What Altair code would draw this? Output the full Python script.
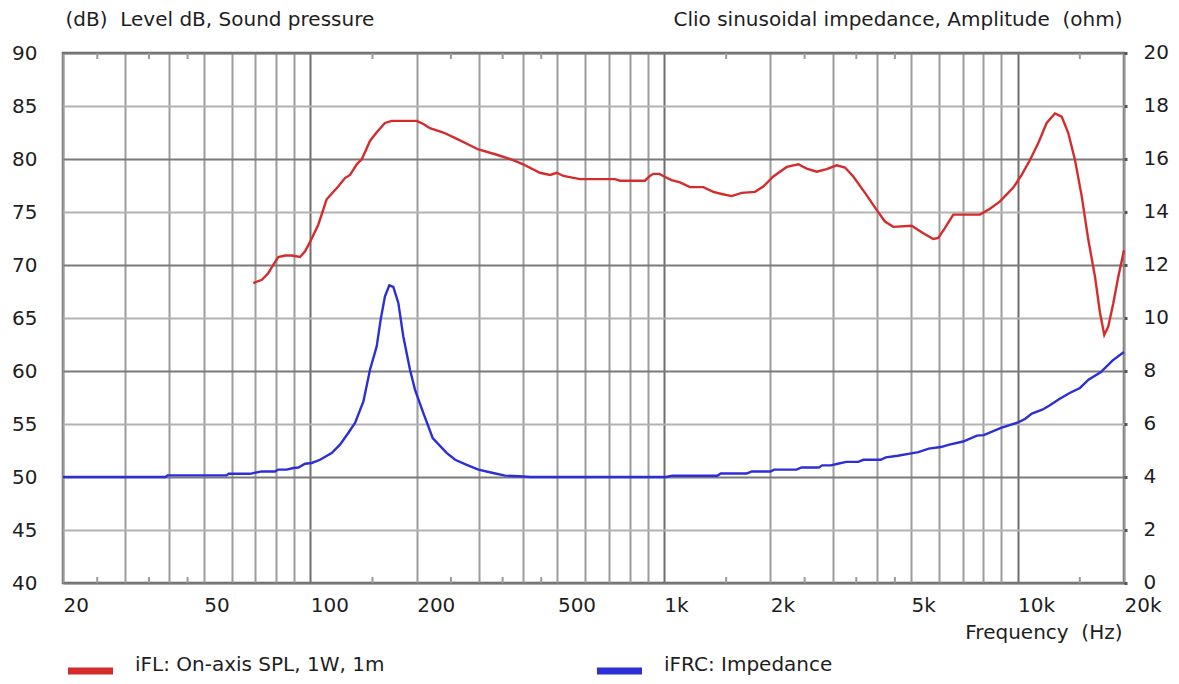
import altair as alt
import pandas as pd

# ---- data ----
spl_freq = [69, 73, 76, 78.6, 81.2, 85, 88.7, 93.6, 96.7, 100, 105.4, 111.3, 120, 125.4, 129.6,
            135.4, 140, 147.6, 154, 162.7, 170, 200, 209, 218, 238, 260, 299, 337, 375, 400,
            446, 477, 498, 520, 579, 728, 751, 884, 913, 933, 971, 1008, 1052, 1111, 1185,
            1293, 1380, 1457, 1555, 1660, 1810, 1910, 2039, 2226, 2400, 2534, 2705, 2887,
            3081, 3252, 3432, 3704, 3996, 4218, 4453, 5020, 5414, 5778, 5970, 6236, 6582,
            7832, 8358, 8922, 9727, 10272, 10844, 11446, 12088, 12761, 13331, 13916, 14536,
            15186, 15851, 16558, 17107, 17592, 18056, 18654, 19272, 20000]
spl_db = [68.3, 68.6, 69.2, 70.0, 70.75, 70.9, 70.9, 70.75, 71.3, 72.2, 73.8, 76.2, 77.4, 78.2,
          78.5, 79.5, 80.0, 81.7, 82.5, 83.4, 83.6, 83.6, 83.3, 82.9, 82.5, 81.9, 80.9, 80.4,
          79.9, 79.5, 78.7, 78.5, 78.7, 78.4, 78.1, 78.1, 77.95, 77.95, 78.4, 78.6, 78.6, 78.3,
          78.0, 77.8, 77.35, 77.35, 76.9, 76.7, 76.5, 76.8, 76.9, 77.4, 78.35, 79.25, 79.5,
          79.1, 78.8, 79.05, 79.4, 79.2, 78.35, 76.8, 75.2, 74.1, 73.6, 73.7, 73.0, 72.45,
          72.55, 73.5, 74.75, 74.75, 75.3, 76.0, 77.3, 78.5, 79.9, 81.5, 83.4, 84.3, 84.0,
          82.45, 79.9, 76.5, 72.4, 68.9, 65.5, 63.4, 64.2, 66.4, 68.9, 71.4]

imp_freq = [20, 39, 39.5, 58, 58.8, 67.6, 72.9, 79.5, 81.2, 85.8, 89.6, 92.6, 96.7, 101, 106.6,
            115, 121.4, 128.1, 133.9, 141.4, 147.6, 154.2, 158.2, 162.7, 167.4, 171.8, 177.5,
            183.3, 191.5, 197.8, 208.8, 222, 243, 257, 277, 299, 329, 356, 400, 420, 1013,
            1059, 1416, 1448, 1714, 1772, 2003, 2048, 2370, 2452, 2742, 2804, 2966, 3102, 3280,
            3546, 3666, 4100, 4242, 4586, 4962, 5244, 5612, 6068, 6416, 7016, 7676, 8028, 8980,
            10038, 10496, 10980, 11744, 12282, 13132, 14042, 15018, 15872, 17174, 18580, 20000]
imp_ohm = [4.0, 4.0, 4.06, 4.06, 4.12, 4.12, 4.21, 4.21, 4.28, 4.28, 4.34, 4.36, 4.5, 4.53, 4.65,
           4.9, 5.22, 5.66, 6.04, 6.85, 8.05, 8.93, 9.94, 10.82, 11.23, 11.17, 10.57, 9.31,
           8.05, 7.3, 6.42, 5.47, 4.91, 4.65, 4.46, 4.28, 4.15, 4.05, 4.02, 4.0, 4.0, 4.05,
           4.05, 4.13, 4.13, 4.21, 4.21, 4.28, 4.28, 4.36, 4.36, 4.44, 4.44, 4.5, 4.57, 4.57,
           4.65, 4.65, 4.74, 4.8, 4.88, 4.94, 5.07, 5.13, 5.22, 5.34, 5.56, 5.58, 5.85, 6.06,
           6.19, 6.39, 6.54, 6.69, 6.94, 7.17, 7.36, 7.67, 7.95, 8.4, 8.72]

minor_freq = [25, 35, 45, 150, 250, 350, 450, 1500, 2500, 3500, 4500, 15000]
grid_freq = [20, 30, 40, 50, 60, 70, 80, 90, 100, 200, 300, 400, 500, 600, 700, 800, 900,
             1000, 2000, 3000, 4000, 5000, 6000, 7000, 8000, 9000, 10000, 20000]
label_freq = [20, 50, 100, 200, 500, 1000, 2000, 5000, 10000, 20000]
db_ticks = [40, 45, 50, 55, 60, 65, 70, 75, 80, 85, 90]
ohm_ticks = [0, 2, 4, 6, 8, 10, 12, 14, 16, 18, 20]

SPL_NAME = "iFL: On-axis SPL, 1W, 1m"
IMP_NAME = "iFRC: Impedance"
RED = "#d42c2c"
BLUE = "#2c2ed6"
FONT = "DejaVu Sans"
TXT = "#1e1e1e"

spl_df = pd.DataFrame({"f": spl_freq, "db": spl_db, "series": SPL_NAME})
imp_df = pd.DataFrame({"f": imp_freq, "ohm": imp_ohm, "series": IMP_NAME})
minor_df = pd.DataFrame({"f": minor_freq})

label_list = ",".join(str(v) for v in label_freq)
label_expr = (f"indexof([{label_list}], datum.value) >= 0 ? "
              "(datum.value >= 1000 ? (datum.value/1000) + 'k' : '' + datum.value) : ''")

x_scale = alt.Scale(type="log", domain=[20, 20000], nice=False)
x_axis = alt.Axis(
    values=grid_freq, labelExpr=label_expr, labelAlign="left", labelBaseline="top",
    labelPadding=12, labelOverlap=False, labelFlush=False, labelFontSize=20,
    ticks=False, tickSize=0, domain=False, grid=True,
    gridColor={"condition": {"test": "datum.value == 100 || datum.value == 1000 || datum.value == 10000",
                             "value": "#6e6e6e"}, "value": "#9c9c9c"},
    gridWidth=2,
    title="Frequency\u00a0 (Hz)", titleX=1059, titleY=55, titleAlign="right",
    titleBaseline="alphabetic", titleFontWeight="normal", titleFontSize=20,
)
x_enc = alt.X("f:Q", scale=x_scale, axis=x_axis)

color_enc = alt.Color(
    "series:N",
    scale=alt.Scale(domain=[SPL_NAME, IMP_NAME], range=[RED, BLUE]),
    legend=alt.Legend(
        title=None, orient="none", direction="horizontal", legendX=1.5, legendY=592,
        symbolType="stroke", symbolSize=2025, symbolStrokeWidth=7, symbolOpacity=1,
        labelFontSize=20, labelOffset=18.5, labelBaseline="alphabetic", labelLimit=600,
        columnPadding=198, padding=0,
    ),
)

left_axis = alt.Axis(
    values=db_ticks, orient="left", grid=True,
    gridColor={"condition": {"test": "datum.value % 10 == 0", "value": "#7a7a7a"},
               "value": "#b2b2b2"},
    gridWidth=2, domain=False, ticks=False, tickSize=0, labelPadding=26, labelFontSize=20,
    title="(dB)\u00a0 Level dB, Sound pressure", titleAngle=0, titleX=2, titleY=-28,
    titleAlign="left", titleBaseline="alphabetic", titleFontWeight="normal", titleFontSize=20,
)
right_axis = alt.Axis(
    values=ohm_ticks, orient="right", grid=False, domain=False, ticks=True, tickSize=3,
    tickWidth=3, tickColor="#555555", labelPadding=16, labelFontSize=20, labelOffset=-1,
    title="Clio sinusoidal impedance, Amplitude\u00a0 (ohm)", titleAngle=0, titleX=-2,
    titleY=-28, titleAlign="right", titleBaseline="alphabetic", titleFontWeight="normal",
    titleFontSize=20,
)

red = alt.Chart(spl_df).mark_line(strokeWidth=2.4).encode(
    x=x_enc,
    y=alt.Y("db:Q", scale=alt.Scale(domain=[40, 90], nice=False, zero=False), axis=left_axis),
    color=color_enc,
)
blue = alt.Chart(imp_df).mark_line(strokeWidth=2.4).encode(
    x=x_enc,
    y=alt.Y("ohm:Q", scale=alt.Scale(domain=[0, 20], nice=False), axis=right_axis),
    color=color_enc,
)
ticks_bottom = alt.Chart(minor_df).mark_rule(color="#9a9a9a", strokeWidth=2).encode(
    x=x_enc, y=alt.value(524), y2=alt.value(530)
)
ticks_top = alt.Chart(minor_df).mark_rule(color="#9a9a9a", strokeWidth=2).encode(
    x=x_enc, y=alt.value(0), y2=alt.value(6)
)

chart = (
    alt.layer(red, blue, ticks_bottom, ticks_top)
    .resolve_scale(y="independent")
    .properties(
        width=1061, height=530,
        autosize=alt.AutoSizeParams(type="none"),
        padding={"left": 55, "top": 45, "right": 46, "bottom": 93},
        background="white",
    )
    .configure_view(stroke="#666666", strokeWidth=2.5)
    .configure_axis(labelFont=FONT, titleFont=FONT, labelColor=TXT, titleColor=TXT)
    .configure_legend(labelFont=FONT, labelColor=TXT)
)

chart.save("out.html", embed_options={"renderer": "svg", "actions": False})
